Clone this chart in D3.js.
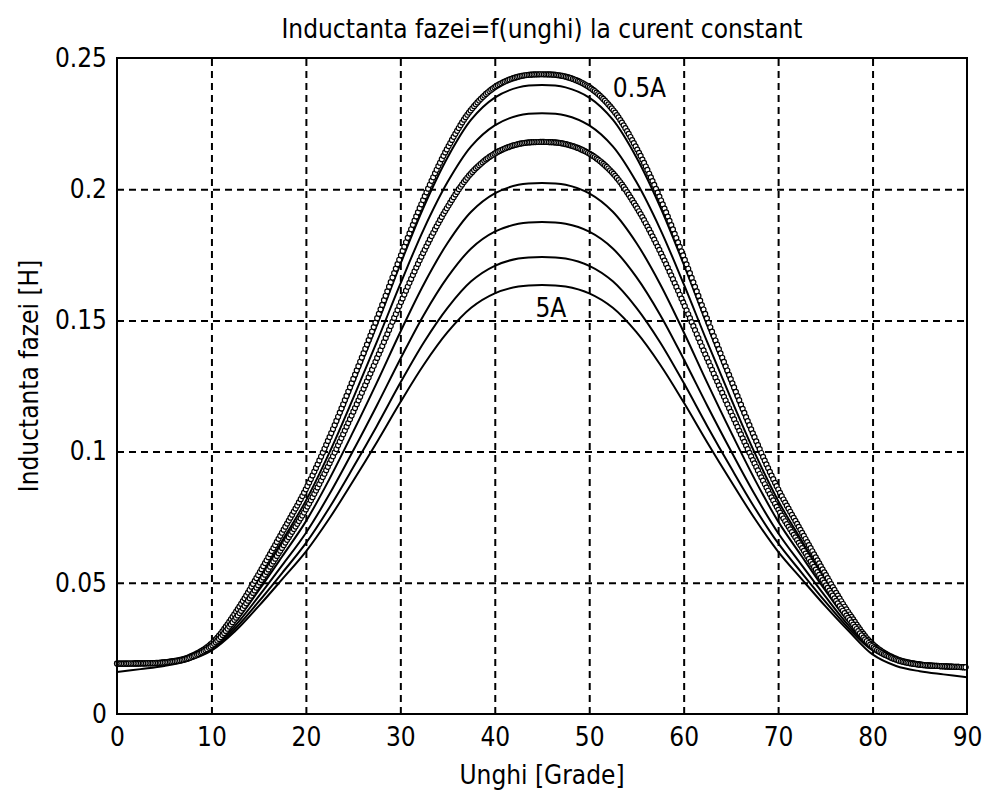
<!DOCTYPE html>
<html>
<head>
<meta charset="utf-8">
<script src="https://cdn.jsdelivr.net/npm/d3@7"></script>
<style>
  body { margin: 0; background: #fff; }
  text { font-family: "Liberation Sans Narrow", "DejaVu Sans Condensed", "Liberation Sans", sans-serif; fill: #000; }
</style>
</head>
<body>
<div id="container"></div>
<script>
/**
 * DATA
 * */
const angles = [0, 2.5, 5, 7.5, 10, 12.5, 15, 17.5, 20, 22.5, 25, 27.5, 30, 32.5, 35, 37.5, 40, 42.5, 45,
  47.5, 50, 52.5, 55, 57.5, 60, 62.5, 65, 67.5, 70, 72.5, 75, 77.5, 80, 82.5, 85, 87.5, 90];

// curves from the top one (0.5A, circles) down to the lowest one (5A)
const curve1 = [.0192, .0193, .0197, .0215, .0268, .0384, .0533, .0693, .0857, .1055, .1275, .1504, .1742, .1966, .2157, .2303, .2389, .2429, .2438,
  .2429, .2389, .2303, .2157, .1966, .1742, .1504, .1275, .1055, .0857, .0693, .0533, .0384, .0266, .0210, .0189, .0182, .0178];
const curve2 = [.0192, .0193, .0197, .0215, .0266, .0381, .0527, .0684, .0845, .1039, .1255, .1480, .1714, .1934, .2121, .2265, .2349, .2388, .2397,
  .2388, .2349, .2265, .2121, .1934, .1714, .1480, .1255, .1039, .0845, .0684, .0527, .0381, .0264, .0210, .0188, .0182, .0178];
const curve3 = [.0192, .0193, .0197, .0213, .0263, .0371, .0511, .0660, .0813, .0997, .1203, .1417, .1639, .1849, .2027, .2163, .2243, .2281, .2289,
  .2281, .2243, .2163, .2027, .1849, .1639, .1417, .1203, .0997, .0813, .0660, .0511, .0371, .0261, .0208, .0189, .0182, .0178];
const curve4 = [.0192, .0193, .0196, .0212, .0259, .0362, .0494, .0635, .0780, .0955, .1150, .1353, .1564, .1763, .1932, .2061, .2136, .2172, .2180,
  .2172, .2136, .2061, .1932, .1763, .1564, .1353, .1150, .0955, .0780, .0635, .0494, .0362, .0257, .0207, .0188, .0182, .0178];
const curve5 = [.0192, .0193, .0196, .0211, .0254, .0349, .0471, .0601, .0734, .0896, .1075, .1262, .1456, .1639, .1795, .1914, .1984, .2017, .2024,
  .2017, .1984, .1914, .1795, .1639, .1456, .1262, .1075, .0896, .0734, .0601, .0471, .0349, .0252, .0206, .0188, .0182, .0178];
const curve6 = [.0192, .0193, .0196, .0209, .0249, .0336, .0448, .0567, .0690, .0838, .1003, .1175, .1353, .1522, .1665, .1774, .1838, .1868, .1875,
  .1868, .1838, .1774, .1665, .1522, .1353, .1175, .1003, .0838, .0690, .0567, .0448, .0336, .0247, .0204, .0188, .0182, .0178];
const curve7 = [.0192, .0193, .0195, .0208, .0244, .0325, .0428, .0538, .0651, .0787, .0939, .1097, .1262, .1417, .1548, .1649, .1708, .1736, .1742,
  .1736, .1708, .1649, .1548, .1417, .1262, .1097, .0939, .0787, .0651, .0538, .0428, .0325, .0242, .0203, .0187, .0182, .0178];
const curve8 = [.0160, .0171, .0183, .0203, .0241, .0315, .0411, .0514, .0619, .0746, .0888, .1035, .1188, .1332, .1455, .1548, .1603, .1629, .1635,
  .1629, .1603, .1548, .1455, .1332, .1188, .1035, .0888, .0746, .0619, .0514, .0411, .0315, .0227, .0183, .0163, .0151, .0140];

const allCurves = [curve1, curve2, curve3, curve4, curve5, curve6, curve7, curve8];
const circleCurves = [0, 3];   // these two are plotted with 'o' markers only

const xTicks = [0, 10, 20, 30, 40, 50, 60, 70, 80, 90];
const xTickLabels = ["0", "10", "20", "30", "40", "50", "60", "70", "80", "90"];
const yTicks = [0, 0.05, 0.1, 0.15, 0.2, 0.25];
const yTickLabels = ["0", "0.05", "0.1", "0.15", "0.2", "0.25"];

const titleText = "Inductanta fazei=f(unghi) la curent constant";
const xLabelText = "Unghi [Grade]";
const yLabelText = "Inductanta fazei [H]";
const curveLabels = [{ text: "0.5A", a: 52.5, v: 0.2352 }, { text: "5A", a: 44.3, v: 0.1512 }];

/**
 * LAYOUT
 * */
const width = 985, height = 794;
const margin = { top: 58, right: 18, bottom: 80, left: 117 };
const innerW = width - margin.left - margin.right;
const innerH = height - margin.top - margin.bottom;

const svg = d3.select("#container").append("svg")
  .attr("width", width)
  .attr("height", height);

const g = svg.append("g").attr("transform", `translate(${margin.left},${margin.top})`);

const x = d3.scaleLinear().domain([0, 90]).range([0, innerW]);
const y = d3.scaleLinear().domain([0, 0.25]).range([innerH, 0]);

// grid
const gridX = g.append("g")
  .attr("transform", `translate(0,${innerH})`)
  .call(d3.axisBottom(x).tickValues(xTicks.slice(1, -1)).tickSize(-innerH).tickFormat(""));
const gridY = g.append("g")
  .call(d3.axisLeft(y).tickValues(yTicks.slice(1, -1)).tickSize(-innerW).tickFormat(""));
[gridX, gridY].forEach(gr => {
  gr.select(".domain").remove();
  gr.selectAll(".tick line")
    .attr("stroke", "#000")
    .attr("stroke-width", 2)
    .attr("stroke-dasharray", "7,5");
});

// curves
const line = d3.line()
  .x((d, i) => x(angles[i]))
  .y(d => y(d))
  .curve(d3.curveCatmullRom.alpha(0.5));

const paths = g.selectAll("path.curve")
  .data(allCurves)
  .join("path")
  .attr("class", "curve")
  .attr("d", d => line(d))
  .attr("fill", "none")
  .attr("stroke", (d, i) => circleCurves.includes(i) ? "none" : "#000")
  .attr("stroke-width", 2);

// circle markers: one every ~0.18 deg along the curve
function sampleByX(node, step) {
  const total = node.getTotalLength();
  const pts = [];
  let nextX = 0;
  for (let l = 0; l <= total; l += 0.25) {
    const p = node.getPointAtLength(l);
    if (p.x >= nextX) { pts.push([p.x, p.y]); nextX += step; }
  }
  return pts;
}

circleCurves.forEach(ci => {
  const pts = sampleByX(paths.nodes()[ci], x(0.18) - x(0));
  g.append("g").selectAll("circle")
    .data(pts)
    .join("circle")
    .attr("cx", d => d[0])
    .attr("cy", d => d[1])
    .attr("r", 2.5)
    .attr("fill", "#fff")
    .attr("stroke", "#000")
    .attr("stroke-width", 1.2);
});

// box
g.append("rect")
  .attr("width", innerW)
  .attr("height", innerH)
  .attr("fill", "none")
  .attr("stroke", "#000")
  .attr("stroke-width", 2);

// tick labels
const xAxis = g.append("g")
  .attr("transform", `translate(0,${innerH})`)
  .call(d3.axisBottom(x).tickValues(xTicks).tickSize(0).tickPadding(14)
    .tickFormat((d, i) => xTickLabels[i]));
const yAxis = g.append("g")
  .call(d3.axisLeft(y).tickValues(yTicks).tickSize(0).tickPadding(10)
    .tickFormat((d, i) => yTickLabels[i]));
[xAxis, yAxis].forEach(ax => {
  ax.select(".domain").remove();
  ax.selectAll("text").attr("font-size", 26).attr("font-family", null);
});

// curve labels
g.selectAll("text.lbl")
  .data(curveLabels)
  .join("text")
  .attr("class", "lbl")
  .attr("x", d => x(d.a))
  .attr("y", d => y(d.v))
  .attr("font-size", 26)
  .text(d => d.text);

// title and axis labels
svg.append("text")
  .attr("x", margin.left + innerW / 2)
  .attr("y", 38)
  .attr("text-anchor", "middle")
  .attr("font-size", 26)
  .text(titleText);

svg.append("text")
  .attr("x", margin.left + innerW / 2)
  .attr("y", 784)
  .attr("text-anchor", "middle")
  .attr("font-size", 26)
  .text(xLabelText);

svg.append("text")
  .attr("transform", `translate(38,${margin.top + innerH / 2 - 10}) rotate(-90)`)
  .attr("text-anchor", "middle")
  .attr("font-size", 26)
  .text(yLabelText);
</script>
</body>
</html>
